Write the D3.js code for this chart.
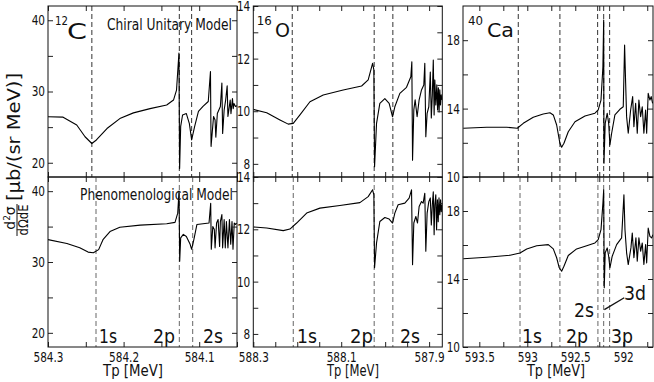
<!DOCTYPE html>
<html>
<head>
<meta charset="utf-8">
<script src="https://cdn.jsdelivr.net/npm/d3@7"></script>
<style>
  body { margin: 0; background: #fff; }
  text { font-family: "DejaVu Sans", sans-serif; fill: #111; }
</style>
</head>
<body>
<svg id="chart" width="654" height="382"></svg>
<script>
// ---- 12C : Tp [MeV] vs d2sigma/dOmega dE
let c12Chiral = [[584.300,26.46],[584.280,26.40],[584.262,25.3],[584.251,23.65],[584.242,22.7],[584.236,23.2],[584.222,24.8],[584.205,26.2],[584.187,27.0],[584.165,27.6],[584.143,28.1],[584.134,28.8],[584.130,30.2],[584.1268,35.4],[584.1259,19.2],[584.1245,25.1],[584.122,26.7],[584.117,26.9],[584.113,25.5],[584.110,23.2],[584.106,25.1],[584.101,27.2],[584.095,27.9],[584.088,28.6],[584.0851,32.8],[584.0843,22.3],[584.081,26.5],[584.079,26.0],[584.078,23.6],[584.076,26.9],[584.072,27.9],[584.070,31.2],[584.069,24.1],[584.067,27.4],[584.065,28.8],[584.063,30.8],[584.062,26.5],[584.059,28.8],[584.058,26.9],[584.056,29.0],[584.055,27.6],[584.054,28.3],[584.052,27.9],[584.050,28.0]];
let c12Pheno = [[584.300,33.16],[584.275,32.6],[584.258,32.0],[584.247,31.4],[584.240,31.3],[584.233,31.75],[584.227,33.2],[584.218,34.3],[584.205,34.9],[584.178,35.2],[584.143,35.4],[584.132,35.6],[584.1284,36.9],[584.1267,40.0],[584.1258,30.1],[584.1245,33.4],[584.121,33.9],[584.117,33.6],[584.112,32.5],[584.110,31.8],[584.107,33.2],[584.103,35.3],[584.095,35.4],[584.087,35.5],[584.0848,38.3],[584.0840,31.8],[584.082,35.0],[584.080,34.6],[584.079,32.0],[584.077,35.5],[584.075,36.0],[584.073,32.2],[584.072,35.7],[584.070,36.7],[584.069,32.0],[584.067,36.0],[584.0655,32.0],[584.064,35.7],[584.062,32.0],[584.060,36.0],[584.0583,32.5],[584.0566,35.7],[584.0553,31.8],[584.0536,35.5],[584.052,35.3],[584.0504,35.5]];
let c12ShellsChiral = [584.242, 584.1263, 584.110];
let c12ShellsPheno = [584.2365, 584.1263, 584.1086];
let c12XTicks = [584.3, 584.25, 584.2, 584.15, 584.1, 584.05];
let c12XLabels = [584.3, 584.2, 584.1];
let c12YTicks = [20, 25, 30, 35, 40];
let c12YLabels = [20, 30, 40];

// ---- 16O
let o16Chiral = [[588.300,10.07],[588.2695,9.94],[588.2393,9.67],[588.2205,9.51],[588.2091,9.54],[588.1939,9.86],[588.1711,10.36],[588.1409,10.62],[588.0955,10.81],[588.0536,10.96],[588.0386,11.19],[588.0286,11.82],[588.0257,11.57],[588.0241,7.89],[588.0196,9.54],[588.0121,10.30],[588.0007,10.48],[587.9909,10.30],[587.9832,9.79],[587.9780,10.17],[587.9666,10.68],[587.9514,10.91],[587.9416,11.31],[587.9393,11.88],[587.9377,8.14],[587.9348,10.05],[587.9318,10.43],[587.9273,9.79],[587.9227,10.43],[587.9173,10.81],[587.9121,11.0],[587.9098,11.82],[587.9075,9.03],[587.9045,9.92],[587.9007,10.17],[587.8973,11.49],[587.8950,9.74],[587.8927,10.62],[587.8905,11.95],[587.8886,9.86],[587.8870,11.19],[587.8848,10.24],[587.8825,11.0],[587.8807,10.05],[587.8789,10.89],[587.8773,9.97],[587.8757,10.81],[587.8741,10.24],[587.8725,10.62],[587.8711,10.43]];
let o16Pheno = [[588.300,12.09],[588.2695,12.05],[588.2318,11.95],[588.2166,12.01],[588.2014,12.24],[588.1786,12.62],[588.1484,12.81],[588.1030,12.91],[588.0575,13.02],[588.0386,13.25],[588.0286,13.51],[588.0257,13.32],[588.0241,10.53],[588.0196,11.48],[588.0121,12.30],[588.0007,12.45],[587.9909,12.39],[587.9832,12.24],[587.9780,12.62],[587.9705,12.94],[587.9552,13.00],[587.9455,13.19],[587.9400,13.51],[587.9377,10.65],[587.9348,12.24],[587.9302,12.49],[587.9264,12.24],[587.9227,12.87],[587.9173,13.06],[587.9136,13.0],[587.9098,13.38],[587.9075,11.16],[587.9045,12.62],[587.9007,13.06],[587.8973,13.2],[587.8950,12.17],[587.8927,12.94],[587.8905,13.43],[587.8886,11.79],[587.8870,12.94],[587.8848,13.32],[587.8830,11.98],[587.8811,13.13],[587.8793,12.29],[587.8775,13.2],[587.8757,12.56],[587.8739,13.13],[587.8723,12.67],[587.8711,12.94]];
let o16ShellsChiral = [588.2114, 588.0250, 587.9825];
let o16ShellsPheno = [588.2091, 588.0250, 587.9825];
let o16XTicks = [588.3, 588.25, 588.2, 588.15, 588.1, 588.05, 588.0, 587.95, 587.9];
let o16XLabels = [588.3, 588.1, 587.9];
let o16YTicks = [8, 9, 10, 11, 12, 13, 14];
let o16YLabels = [8, 10, 12, 14];

// ---- 40Ca
let ca40Chiral = [[593.667,12.85],[593.423,12.91],[593.215,12.91],[593.104,12.85],[593.042,13.14],[592.938,13.49],[592.834,13.68],[592.764,13.76],[592.729,13.63],[592.694,13.04],[592.660,11.97],[592.642,11.74],[592.618,11.97],[592.573,12.65],[592.503,13.23],[592.399,13.57],[592.295,13.73],[592.261,13.92],[592.232,14.50],[592.212,16.45],[592.204,19.18],[592.201,10.80],[592.188,13.14],[592.167,13.73],[592.152,13.14],[592.139,11.87],[592.121,12.56],[592.087,13.63],[592.035,13.96],[592.000,14.11],[591.986,17.72],[591.975,15.48],[591.965,13.53],[591.948,12.56],[591.923,13.92],[591.902,14.70],[591.889,12.94],[591.871,14.31],[591.854,12.56],[591.837,14.50],[591.819,13.53],[591.802,14.11],[591.785,12.56],[591.767,13.92],[591.756,12.56],[591.740,14.89],[591.722,14.50],[591.709,14.70],[591.694,14.31]];
let ca40Pheno = [[593.667,15.19],[593.423,15.28],[593.180,15.40],[593.076,15.53],[593.006,15.77],[592.902,15.96],[592.781,16.02],[592.729,15.77],[592.694,15.25],[592.667,14.66],[592.642,14.46],[592.618,14.75],[592.573,15.38],[592.486,15.77],[592.381,15.96],[592.295,16.12],[592.261,16.32],[592.232,16.90],[592.212,18.46],[592.204,19.24],[592.198,13.49],[592.188,15.54],[592.167,15.83],[592.152,15.34],[592.139,14.66],[592.115,15.34],[592.069,16.02],[592.017,16.42],[591.993,18.95],[591.982,16.90],[591.965,15.54],[591.948,14.85],[591.920,15.83],[591.906,16.71],[591.889,15.25],[591.868,16.42],[591.854,15.05],[591.837,16.42],[591.819,15.63],[591.802,16.12],[591.785,14.85],[591.767,16.02],[591.756,14.95],[591.740,17.0],[591.722,16.51],[591.704,16.42],[591.691,16.61]];
let ca40ShellsChiral = [593.094, 592.660, 592.267, 592.204, 592.142];
let ca40ShellsPheno = [593.076, 592.660, 592.264, 592.204, 592.142];
let ca40XTicks = [593.5, 593.25, 593, 592.75, 592.5, 592.25, 592, 591.75];
let ca40XLabels = [593.5, 593, 592.5, 592];
let ca40YTicks = [10, 12, 14, 16, 18];
let ca40YLabels = [10, 14, 18];
let ca40Pointer = [[592.197, 12.2], [591.99, 12.9]];

let modelNames = ["Chiral Unitary Model", "Phenomenological Model"];

// ---- layout
let svg = d3.select("#chart");
let rows = [{top: 6, bottom: 177}, {top: 177, bottom: 347}];

let panels = [
  {id: "c", left: 48, right: 237, xDomain: [584.3, 584.05], yDomain: [18, 42],
   xTicks: c12XTicks, xLabels: c12XLabels, yTicks: c12YTicks, yLabels: c12YLabels,
   series: [c12Chiral, c12Pheno], shells: [c12ShellsChiral, c12ShellsPheno]},
  {id: "o", left: 253.3, right: 442.3, xDomain: [588.3, 587.87], yDomain: [7.5, 14],
   xTicks: o16XTicks, xLabels: o16XLabels, yTicks: o16YTicks, yLabels: o16YLabels,
   series: [o16Chiral, o16Pheno], shells: [o16ShellsChiral, o16ShellsPheno]},
  {id: "ca", left: 463, right: 653, xDomain: [593.67, 591.69], yDomain: [10, 20],
   xTicks: ca40XTicks, xLabels: ca40XLabels, yTicks: ca40YTicks, yLabels: ca40YLabels,
   series: [ca40Chiral, ca40Pheno], shells: [ca40ShellsChiral, ca40ShellsPheno]}
];

function fmt(labels) {
  return d => labels.some(l => Math.abs(l - d) < 1e-6) ? String(+d.toFixed(2)) : "";
}

function squeeze(sel, k) {
  sel.each(function() {
    let w = this.getComputedTextLength();
    if (w > 0) d3.select(this).attr("textLength", w * k).attr("lengthAdjust", "spacingAndGlyphs");
  });
}

function label(txt, x, y, size, width, anchor) {
  let t = svg.append("text")
    .attr("x", x).attr("y", y)
    .attr("font-size", size)
    .attr("text-anchor", anchor || "start")
    .text(txt);
  if (width) t.attr("textLength", width).attr("lengthAdjust", "spacingAndGlyphs");
  return t;
}

let scalesOut = {};

panels.forEach(p => {
  let x = d3.scaleLinear().domain(p.xDomain).range([p.left, p.right]);
  rows.forEach((r, ri) => {
    let y = d3.scaleLinear().domain(p.yDomain).range([r.bottom, r.top]);
    scalesOut[p.id + ri] = {x, y};
    let clipId = "clip-" + p.id + ri;
    svg.append("clipPath").attr("id", clipId)
      .append("rect")
      .attr("x", p.left).attr("y", r.top)
      .attr("width", p.right - p.left).attr("height", r.bottom - r.top);

    let g = svg.append("g").attr("clip-path", `url(#${clipId})`);

    // shell energies
    g.selectAll("line.shell")
      .data(p.shells[ri]).enter()
      .append("line")
      .attr("class", "shell")
      .attr("x1", d => x(d)).attr("x2", d => x(d))
      .attr("y1", r.top).attr("y2", r.bottom)
      .attr("stroke", ri === 0 ? "#333" : "#666")
      .attr("stroke-width", 1)
      .attr("stroke-dasharray", "5,3");

    let line = d3.line().x(d => x(d[0])).y(d => y(d[1]));
    g.append("path")
      .datum(p.series[ri])
      .attr("d", line)
      .attr("fill", "none")
      .attr("stroke", "#000")
      .attr("stroke-width", 1.1)
      .attr("stroke-linejoin", "round");

    // axes, ticks pointing inward
    let ax = svg.append("g");
    ax.append("g").attr("transform", `translate(${p.left},0)`)
      .call(d3.axisLeft(y).tickValues(p.yTicks).tickSizeInner(-5).tickSizeOuter(0)
        .tickPadding(3).tickFormat(fmt(p.yLabels)));
    ax.append("g").attr("transform", `translate(${p.right},0)`)
      .call(d3.axisRight(y).tickValues(p.yTicks).tickSizeInner(-5).tickSizeOuter(0).tickFormat(""));
    ax.append("g").attr("transform", `translate(0,${r.top})`)
      .call(d3.axisTop(x).tickValues(p.xTicks).tickSizeInner(-5).tickSizeOuter(0).tickFormat(""));
    ax.append("g").attr("transform", `translate(0,${r.bottom})`)
      .call(d3.axisBottom(x).tickValues(p.xTicks).tickSizeInner(-5).tickSizeOuter(0)
        .tickPadding(5).tickFormat(ri === 1 ? fmt(p.xLabels) : ""));
    ax.selectAll(".domain").remove();
    ax.selectAll("g").attr("font-family", null).attr("font-size", null);
    ax.selectAll(".tick line").attr("stroke", "#222");
    ax.selectAll(".tick text").attr("font-size", 14).attr("fill", "#111");

    svg.append("rect")
      .attr("x", p.left).attr("y", r.top)
      .attr("width", p.right - p.left).attr("height", r.bottom - r.top)
      .attr("fill", "none").attr("stroke", "#111").attr("stroke-width", 1);
  });
});

squeeze(svg.selectAll(".tick text"), 0.75);

// panel titles
label("12", 55, 25, 13, 13);
label("C", 67, 39, 22, 20);
label("16", 256.7, 25, 13, 15);
label("O", 275, 37, 20, 15);
label("40", 468, 25, 13, 15);
label("Ca", 487, 37, 20, 27);

label(modelNames[0], 107, 30, 16, 125);
label(modelNames[1], 80, 200, 16, 153);

// shell labels
label("1s", 99, 343, 19, 18);
label("2p", 153, 343, 19, 22);
label("2s", 203, 343, 19, 20);
label("1s", 297, 343, 19, 20);
label("2p", 350, 343, 19, 23);
label("2s", 400, 343, 19, 20);
label("1s", 522, 343, 19, 20);
label("2p", 566, 343, 19, 22);
label("3p", 611, 343, 19, 22);
label("2s", 574, 317, 19, 20);
label("3d", 624, 300, 19, 22);

let sCa = scalesOut["ca1"];
svg.append("line")
  .attr("x1", sCa.x(ca40Pointer[0][0])).attr("y1", sCa.y(ca40Pointer[0][1]))
  .attr("x2", sCa.x(ca40Pointer[1][0])).attr("y2", sCa.y(ca40Pointer[1][1]))
  .attr("stroke", "#111").attr("stroke-width", 1.3);

// x-axis titles
label("Tp [MeV]", 133, 376, 16, 60, "middle");
label("Tp [MeV]", 353, 376, 16, 52, "middle");
label("Tp [MeV]", 556, 376, 16, 58, "middle");

// y-axis title (fraction + units)
let num = svg.append("text")
  .attr("transform", "translate(15,218) rotate(-90)")
  .attr("text-anchor", "middle")
  .attr("font-size", 14);
num.append("tspan").text("d");
num.append("tspan").attr("font-size", 9).attr("dy", -5).text("2");
num.append("tspan").attr("dy", 5).text("σ");
svg.append("line")
  .attr("x1", 17).attr("x2", 17).attr("y1", 204).attr("y2", 236)
  .attr("stroke", "#111").attr("stroke-width", 1);
svg.append("text")
  .attr("transform", "translate(28,220) rotate(-90)")
  .attr("text-anchor", "middle")
  .attr("font-size", 14)
  .attr("textLength", 31).attr("lengthAdjust", "spacingAndGlyphs")
  .text("dΩdE");
svg.append("text")
  .attr("transform", "translate(20,201) rotate(-90)")
  .attr("font-size", 17)
  .attr("textLength", 128).attr("lengthAdjust", "spacingAndGlyphs")
  .text("[μb/(sr MeV)]");
</script>
</body>
</html>
